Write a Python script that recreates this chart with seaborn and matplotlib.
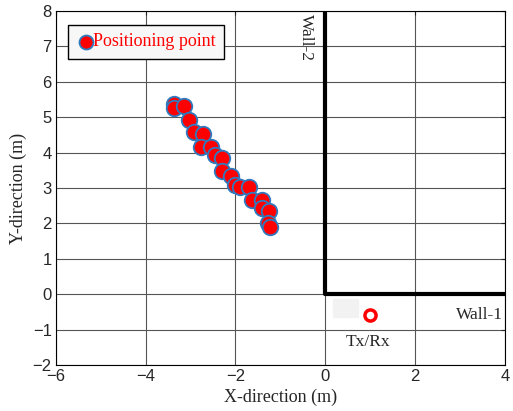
import matplotlib
matplotlib.use("Agg")
import matplotlib.pyplot as plt
import seaborn as sns
import pandas as pd

# Positionierungspunkte (m)
pos_x = [-3.37, -3.37, -3.15, -3.03, -2.93, -2.73, -2.76, -2.55, -2.46, -2.31, -2.29,
         -2.11, -2.01, -1.90, -1.69, -1.64, -1.42, -1.42, -1.25, -1.27, -1.23]
pos_y = [5.37, 5.25, 5.33, 4.92, 4.59, 4.53, 4.17, 4.17, 3.94, 3.84, 3.49,
         3.34, 3.08, 3.04, 3.04, 2.66, 2.66, 2.43, 2.35, 2.02, 1.91]

# Waende
wall_x = [0, 0, 4]
wall_y = [8, 0, 0]

# Sender/Empfaenger
txrx_x = [1.0]
txrx_y = [-0.58]

x_ticks = [-6, -4, -2, 0, 2, 4]
y_ticks = [-2, -1, 0, 1, 2, 3, 4, 5, 6, 7, 8]

df = pd.DataFrame({"x": pos_x, "y": pos_y})

sns.set_style("white")
plt.rcParams["font.family"] = ["Liberation Sans", "DejaVu Sans"]

fig = plt.figure(figsize=(5.13, 4.11), dpi=100)
ax = fig.add_axes([0.109, 0.112, 0.875, 0.861])

ax.grid(True, color="#555555", linewidth=0.8)
ax.set_axisbelow(True)

ax.plot(wall_x, wall_y, color="black", linewidth=3, solid_capstyle="butt", zorder=3)

# schwaches graues Feld neben Tx/Rx
ax.add_patch(plt.Rectangle((0.17, -0.64), 0.56, 0.5, color="#f2f2f2", zorder=2))

sns.scatterplot(data=df, x="x", y="y", ax=ax, color="red", edgecolor="#2f7bbf",
                linewidth=1.3, s=125, label="Positioning point", zorder=4)

ax.plot(txrx_x, txrx_y, marker="o", markersize=8, markerfacecolor="white",
        markeredgecolor="red", markeredgewidth=2.5, linestyle="none", zorder=4)

serif = ["Liberation Serif", "DejaVu Serif"]
ax.text(0.95, -1.35, "Tx/Rx", family=serif, fontsize=12.5, ha="center", va="center")
ax.text(3.95, -0.58, "Wall-1", family=serif, fontsize=12.5, ha="right", va="center")
ax.text(-0.44, 7.24, "Wall-2", family=serif, fontsize=12.5, ha="center", va="center",
        rotation=270)

ax.set_xlim(-6, 4)
ax.set_ylim(-2, 8)
ax.set_xticks(x_ticks)
ax.set_yticks(y_ticks)
ax.tick_params(direction="in", labelsize=12, length=3, top=True, right=True, pad=3)
ax.set_xlabel("X-direction (m)", family=serif, fontsize=13, labelpad=3)
ax.set_ylabel("Y-direction (m)", family=serif, fontsize=13, labelpad=4)

for sp in ax.spines.values():
    sp.set_color("black")
    sp.set_linewidth(0.8)

leg = ax.legend(loc="upper left", bbox_to_anchor=(0.028, 0.96), fancybox=False,
                frameon=True, handletextpad=-0.1, borderpad=0.45, handlelength=1.0,
                prop={"family": serif, "size": 13}, labelcolor="red",
                borderaxespad=0, markerscale=0.9)
leg.get_frame().set_edgecolor("black")
leg.get_frame().set_facecolor("#f7f7f7")
leg.get_frame().set_alpha(1)

fig.savefig("out.png", dpi=100)
